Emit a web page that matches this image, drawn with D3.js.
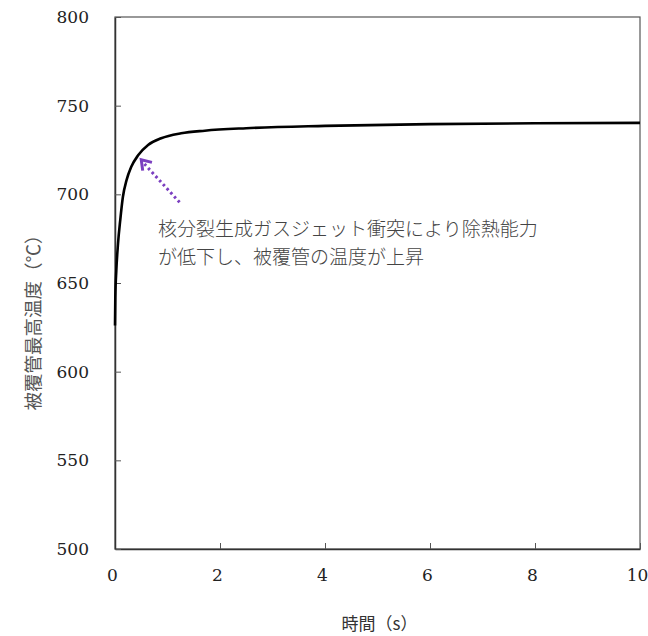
<!DOCTYPE html>
<html>
<head>
<meta charset="utf-8">
<script src="https://cdn.jsdelivr.net/npm/d3@7"></script>
<style>
  body { margin: 0; background: #fff; }
  .jp { font-family: "Noto Sans CJK JP", sans-serif; }
</style>
</head>
<body>
<div id="chart"></div>
<script>
// time (s) and peak cladding temperature (°C)
var time = [0, 0.006, 0.025, 0.057, 0.1, 0.15, 0.22, 0.31, 0.44, 0.63, 0.88, 1.26, 1.71, 2.5, 4, 6, 8, 10];
var temp = [626, 642, 657, 672, 685.5, 698.5, 708, 715.5, 722, 727.8, 731.6, 734.4, 735.9, 737.3, 738.6, 739.6, 740.1, 740.3];
var xTicks = [0, 2, 4, 6, 8, 10];
var yTicks = [500, 550, 600, 650, 700, 750, 800];
var noteLines = ["核分裂生成ガスジェット衝突により除熱能力", "が低下し、被覆管の温度が上昇"];

var W = 648, H = 636;
var margin = { top: 17, right: 8, bottom: 87, left: 115 },
  width = W - margin.left - margin.right,
  height = H - margin.top - margin.bottom;

var svg = d3.select("#chart").append("svg")
  .attr("width", W)
  .attr("height", H);
var g = svg.append("g")
  .attr("transform", "translate(" + margin.left + "," + margin.top + ")");

var x = d3.scaleLinear().domain([0, 10]).range([0, width]);
var y = d3.scaleLinear().domain([500, 800]).range([height, 0]);

// frame
g.append("rect")
  .attr("width", width)
  .attr("height", height)
  .attr("fill", "none")
  .attr("stroke", "#555")
  .attr("stroke-width", 1.2);

var xAxis = d3.axisBottom(x).tickValues(xTicks).tickSizeInner(-6).tickSizeOuter(0).tickPadding(20);
var yAxis = d3.axisLeft(y).tickValues(yTicks).tickSizeInner(-6).tickSizeOuter(0).tickPadding(26);

function styleAxis(s) {
  s.attr("font-family", "'DejaVu Serif', 'Liberation Serif', serif").attr("font-size", 17);
  s.select(".domain").attr("stroke", "#333").attr("stroke-width", 1.5);
  s.selectAll(".tick line").attr("stroke", "#555");
  s.selectAll(".tick text").attr("fill", "#222");
}

g.append("g")
  .attr("transform", "translate(0," + height + ")")
  .call(xAxis)
  .call(styleAxis)
  .selectAll("text").attr("dx", "-3");

g.append("g")
  .call(yAxis)
  .call(styleAxis);

// curve
var pts = time.map(function (t, i) { return [t, temp[i]]; });
var line = d3.line()
  .x(function (d) { return x(d[0]); })
  .y(function (d) { return y(d[1]); })
  .curve(d3.curveMonotoneX);
g.append("path")
  .datum(pts)
  .attr("fill", "none")
  .attr("stroke", "#000")
  .attr("stroke-width", 2.6)
  .attr("d", line);

// annotation arrow
var purple = "#7b3fc0";
var ax0 = x(1.23), ay0 = y(695.5), ax1 = x(0.5), ay1 = y(719.5);
g.append("line")
  .attr("x1", ax0).attr("y1", ay0)
  .attr("x2", ax1 + 3).attr("y2", ay1 + 4)
  .attr("stroke", purple)
  .attr("stroke-width", 3)
  .attr("stroke-dasharray", "2.5,3");
var ang = Math.atan2(ay0 - ay1, ax0 - ax1);
var hl = 11, spread = 0.6;
g.append("path")
  .attr("d", "M" + (ax1 + hl * Math.cos(ang - spread)) + "," + (ay1 + hl * Math.sin(ang - spread)) +
    "L" + ax1 + "," + ay1 +
    "L" + (ax1 + hl * Math.cos(ang + spread)) + "," + (ay1 + hl * Math.sin(ang + spread)))
  .attr("fill", "none")
  .attr("stroke", purple)
  .attr("stroke-width", 3);

// annotation text
var note = g.append("text")
  .attr("class", "jp")
  .attr("x", x(0.82))
  .attr("y", 236 - margin.top)
  .attr("font-size", 19)
  .attr("font-weight", 300)
  .attr("fill", "#444");
note.selectAll("tspan")
  .data(noteLines)
  .enter().append("tspan")
  .attr("x", x(0.82))
  .attr("dy", function (d, i) { return i === 0 ? 0 : 28; })
  .text(function (d) { return d; });

// axis titles
svg.append("text")
  .attr("class", "jp")
  .attr("x", margin.left + width / 2 + 2)
  .attr("y", 630)
  .attr("text-anchor", "middle")
  .attr("font-size", 17)
  .attr("fill", "#333")
  .text("時間（s）");

svg.append("text")
  .attr("class", "jp")
  .attr("transform", "translate(40," + 318 + ") rotate(-90)")
  .attr("text-anchor", "middle")
  .attr("font-size", 18.5)
  .attr("fill", "#555")
  .text("被覆管最高温度（℃）");
</script>
</body>
</html>
